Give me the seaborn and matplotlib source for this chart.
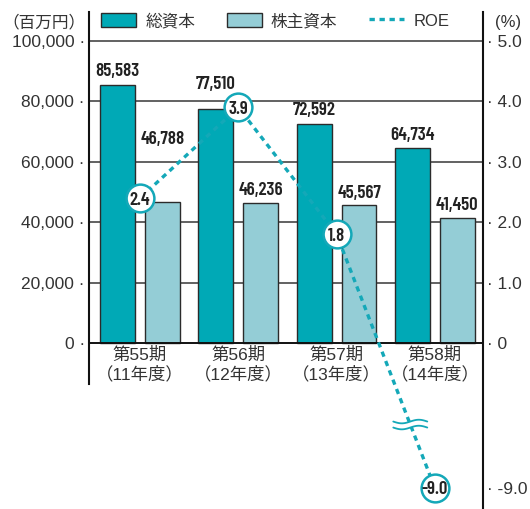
import numpy as np
import pandas as pd
import matplotlib
matplotlib.use("Agg")
import matplotlib.pyplot as plt
from matplotlib.lines import Line2D
from matplotlib.patches import Patch, Polygon
from matplotlib.transforms import IdentityTransform
import seaborn as sns

# ---- data -------------------------------------------------------------
periods = ["第55期\n（11年度）", "第56期\n（12年度）", "第57期\n（13年度）", "第58期\n（14年度）"]
series_names = ["総資本", "株主資本"]
total_capital = [85583, 77510, 72592, 64734]
equity = [46788, 46236, 45567, 41450]
roe = [2.4, 3.9, 1.8, -9.0]
left_ticks = [0, 20000, 40000, 60000, 80000, 100000]
right_ticks = [0.0, 1.0, 2.0, 3.0, 4.0, 5.0, -9.0]

# ---- style ------------------------------------------------------------
DARK = "#00A9B6"
LIGHT = "#94CDD6"
ROE_C = "#14A8B8"
INK = "#333333"
EDGE = "#2b2b2b"
NEG_SCALE = 2.4 / 9.0          # negative ROE values are drawn on a compressed (broken) scale
# label offsets above bars, in points (some labels are lifted clear of the ROE markers)
dark_pad = [3, 11.5, 3.5, 2.5]
light_pad = [38.5, 3, 2.5, 2.5]

sns.set_style("white")
plt.rcParams["font.family"] = ["Liberation Sans", "Noto Sans CJK JP"]
plt.rcParams["text.color"] = INK
NUM_KW = dict(fontsize=13.5, fontweight=600, family=["Barlow Condensed"], color="#222222")


def roe_pos(v):
    return v if v >= 0 else v * NEG_SCALE


W, H = 530, 509
fig = plt.figure(figsize=(W / 100, H / 100), dpi=100)
ax = fig.add_axes([89 / W, 0, 394 / W, 1 - 12 / H])

# pixel geometry: 0 at y=343, 100,000 at y=41
px_per_unit = 302 / 100000
ax.set_ylim(-(H - 343) / px_per_unit, (343 - 12) / px_per_unit)

df = pd.DataFrame({
    "period": periods * 2,
    "series": [series_names[0]] * len(periods) + [series_names[1]] * len(periods),
    "value": total_capital + equity,
})

for t in left_ticks[1:]:
    ax.axhline(t, color="#474747", lw=1.2, zorder=0)

sns.barplot(data=df, x="period", y="value", hue="series", order=periods,
            hue_order=series_names, palette=[DARK, LIGHT], saturation=1,
            width=0.914, gap=0.223, edgecolor=EDGE, linewidth=1.0,
            legend=False, ax=ax, zorder=2)
ax.set_xlim(-0.52, 3.49)
ax.set_xlabel("")
ax.set_ylabel("")

# value labels above bars
for cont, vals, pads in zip(ax.containers, [total_capital, equity], [dark_pad, light_pad]):
    for bar, v, p in zip(cont, vals, pads):
        ax.annotate(f"{v:,}", (bar.get_x() + bar.get_width() / 2, v),
                    xytext=(0, p), textcoords="offset points", ha="center", va="bottom",
                    **NUM_KW)

# axes frame
for s in ["top", "right"]:
    ax.spines[s].set_visible(False)
ax.spines["bottom"].set_position(("data", 0))
ax.spines["bottom"].set_color("#111111")
ax.spines["bottom"].set_linewidth(1.4)
ax.spines["left"].set_color("#111111")
ax.spines["left"].set_linewidth(1.5)
ax.spines["left"].set_bounds(-(384 - 343) / px_per_unit, (343 - 12) / px_per_unit)

ax.set_yticks(left_ticks, labels=[f"{v:,} ·" for v in left_ticks])
ax.tick_params(axis="y", length=0, pad=3, labelsize=12.5, labelcolor=INK)
ax.tick_params(axis="x", length=0, pad=2.5, labelsize=12.5, labelcolor=INK)

# ---- ROE on the right axis ---------------------------------------------
ax2 = ax.twinx()
ax2.set_ylim(-(H - 343) / 60.4, (343 - 12) / 60.4)
x_pos = np.arange(len(roe))
y_pos = [roe_pos(v) for v in roe]
sns.lineplot(x=x_pos, y=y_pos, ax=ax2, color=ROE_C, lw=2.4, sort=False,
             linestyle=(0, (1.6, 1.4)), zorder=3)
ax2.plot(x_pos, y_pos, ls="none", marker="o", ms=20, mfc="white",
         mec=ROE_C, mew=1.8, zorder=4)
for xp, yp, v in zip(x_pos, y_pos, roe):
    ax2.text(xp, yp, f"{v:.1f}", ha="center", va="center_baseline", zorder=5, **NUM_KW)

for s in ["top", "left", "bottom"]:
    ax2.spines[s].set_visible(False)
ax2.spines["right"].set_color("#111111")
ax2.spines["right"].set_linewidth(1.5)
ax2.set_yticks([roe_pos(v) for v in right_ticks],
               labels=["· 0" if v == 0 else f"· {v:.1f}" for v in right_ticks])
ax2.tick_params(axis="y", length=0, pad=3, labelsize=12.5, labelcolor=INK)
ax2.set_ylabel("")

# break mark on the segment running to the negative value
fig.canvas.draw()
t_b = 0.75
bx = x_pos[2] + t_b * (x_pos[3] - x_pos[2])
by = y_pos[2] + t_b * (y_pos[3] - y_pos[2])
cx, cy = ax2.transData.transform((bx, by))
u = np.linspace(-17, 17, 80)
wave = 1.8 * np.sin(2 * np.pi * u / 34)
upper = cy + 3.0 + wave
lower = cy - 3.0 + wave
ident = IdentityTransform()
band = Polygon(np.column_stack([np.r_[cx + u, (cx + u)[::-1]], np.r_[upper, lower[::-1]]]),
               closed=True, facecolor="white", edgecolor="none", transform=ident, zorder=6)
ax2.add_patch(band)
ax2.plot(cx + u, upper, color=ROE_C, lw=1.3, transform=ident, zorder=7, clip_on=False)
ax2.plot(cx + u, lower, color=ROE_C, lw=1.3, transform=ident, zorder=7, clip_on=False)

# ---- legend and unit labels ---------------------------------------------
handles = [Patch(facecolor=DARK, edgecolor=EDGE, lw=1.0),
           Patch(facecolor=LIGHT, edgecolor=EDGE, lw=1.0),
           Line2D([], [], color=ROE_C, lw=2.4, linestyle=(0, (1.6, 1.4)))]
fig.legend(handles, series_names + ["ROE"], loc="center left",
           bbox_to_anchor=(101 / W, 1 - 21 / H), ncol=3, frameon=False,
           borderpad=0, borderaxespad=0, handlelength=2.1, handleheight=0.95,
           handletextpad=0.55, columnspacing=1.9, fontsize=12, labelcolor=INK)

fig.text(44 / W, 1 - 22 / H, "（百万円）", ha="center", va="center", fontsize=12, color=INK)
fig.text(508 / W, 1 - 22 / H, "(%)", ha="center", va="center", fontsize=12, color=INK)

fig.savefig("out.png", dpi=100)
